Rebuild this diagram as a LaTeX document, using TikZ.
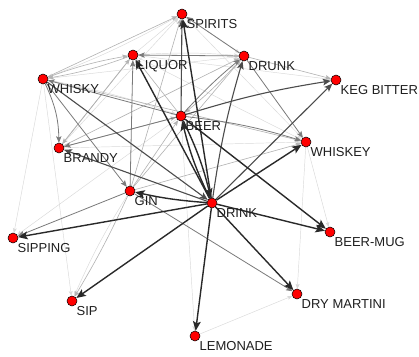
\documentclass[tikz,border=0pt]{standalone}
\usepackage{fontspec}
\setmainfont{Liberation Sans}
\usetikzlibrary{arrows.meta}
\pgfdeclarelayer{edgelayer}
\pgfsetlayers{edgelayer,main}

\begin{document}
\begin{tikzpicture}[x=1pt,y=-1pt,
  vtx/.style={circle,fill=red,draw=black,line width=0.5pt,inner sep=0pt,minimum size=10pt},
  lab/.style={anchor=north west,inner sep=0pt,font=\fontsize{13}{15}\selectfont,text=black!88},
  tip/.style={-{Stealth[length=+2.5pt 5,width=+2pt 4.2,inset=+0.6pt 1]}},
  ea/.style={draw=gray!30,line width=0.45pt,tip},
  eb/.style={draw=gray!60,line width=0.6pt,tip},
  ec/.style={draw=black!52,line width=0.8pt,tip},
  ed/.style={draw=black!70,line width=1.1pt,tip},
  ee/.style={draw=black!84,line width=1.4pt,tip},
]
\useasboundingbox (0,0) rectangle (419,356);

% vertices with their word labels
\foreach \n/\x/\y/\t in {
  SPIRITS/182/14/SPIRITS, LIQUOR/133/55/LIQUOR, DRUNK/244/56/DRUNK,
  WHISKY/43/79/WHISKY, KEGBITTER/336/80/KEG BITTER, BEER/181/116/BEER,
  WHISKEY/306/142/WHISKEY, BRANDY/59/148/BRANDY, GIN/130/191/GIN,
  DRINK/212/203/DRINK, BEERMUG/330/232/BEER-MUG, SIPPING/13/238/SIPPING,
  DRYMARTINI/297/294/DRY MARTINI, SIP/72/301/SIP, LEMONADE/195/336/LEMONADE}
{
  \node[vtx] (\n) at (\x,\y) {};
  \node[lab] (l\n) at ([shift={(4.5,5.5)}]\n.center) {\t};
}

% associations, drawn beneath the vertices
\begin{pgfonlayer}{edgelayer}
\fill[white] (0,0) rectangle (419,356);
\foreach \a/\b/\s/\c in {
  WHISKY/SIPPING/ea/0, WHISKY/SIP/ea/0, WHISKEY/DRYMARTINI/ea/0,
  WHISKEY/BEERMUG/ea/0, LEMONADE/DRYMARTINI/ea/0, BEER/LEMONADE/ea/0,
  WHISKY/DRUNK/ea/0, SPIRITS/WHISKEY/ea/0, LIQUOR/KEGBITTER/ea/0,
  LIQUOR/WHISKEY/ea/0, BRANDY/SPIRITS/ea/0, GIN/SIP/ea/-4,
  BRANDY/WHISKEY/ea/0, SPIRITS/DRUNK/ea/0, LIQUOR/SPIRITS/ea/0,
  BEER/SIPPING/ea/0, WHISKY/BEER/ea/4, SPIRITS/WHISKY/ea/4,
  LIQUOR/DRUNK/ea/4,
  WHISKY/SPIRITS/eb/0, WHISKY/LIQUOR/eb/5, LIQUOR/WHISKY/eb/5,
  GIN/SPIRITS/eb/0, GIN/DRUNK/eb/0, BRANDY/DRUNK/eb/0,
  DRUNK/KEGBITTER/eb/0, WHISKY/WHISKEY/eb/0, GIN/WHISKEY/eb/0,
  BEER/LIQUOR/eb/0, GIN/SIP/eb/3, BRANDY/LIQUOR/eb/0,
  BRANDY/BEER/eb/0, GIN/BEER/eb/0, LIQUOR/BRANDY/eb/0, DRUNK/BEER/eb/4,
  GIN/DRYMARTINI/ec/0, GIN/SIPPING/ec/0, DRUNK/WHISKEY/ec/0,
  BEER/WHISKEY/ec/5, BEER/WHISKY/ec/0, BEER/BRANDY/ec/0,
  DRUNK/LIQUOR/ec/0, BEER/DRUNK/ec/4, GIN/LIQUOR/ec/0,
  WHISKY/GIN/ec/0, WHISKY/BRANDY/ec/12, DRUNK/SPIRITS/ec/0,
  DRINK/KEGBITTER/ed/0, BEER/KEGBITTER/ed/4, DRINK/DRUNK/ed/4,
  WHISKY/DRINK/ed/0, DRINK/BRANDY/ed/0, BEER/SPIRITS/ed/0,
  DRINK/SIPPING/ee/0, DRINK/SIP/ee/0, DRINK/LEMONADE/ee/0,
  DRINK/DRYMARTINI/ee/0, DRINK/BEERMUG/ee/0, DRINK/LIQUOR/ee/0,
  DRINK/GIN/ee/4, DRINK/SPIRITS/ee/0, DRINK/BEER/ee/6, BEER/DRINK/ee/6,
  BEER/BEERMUG/ee/0, DRINK/WHISKEY/ee/0}
{
  \draw[\s] (\a) to[bend left=\c] (\b);
}
\end{pgfonlayer}
\end{tikzpicture}
\end{document}
